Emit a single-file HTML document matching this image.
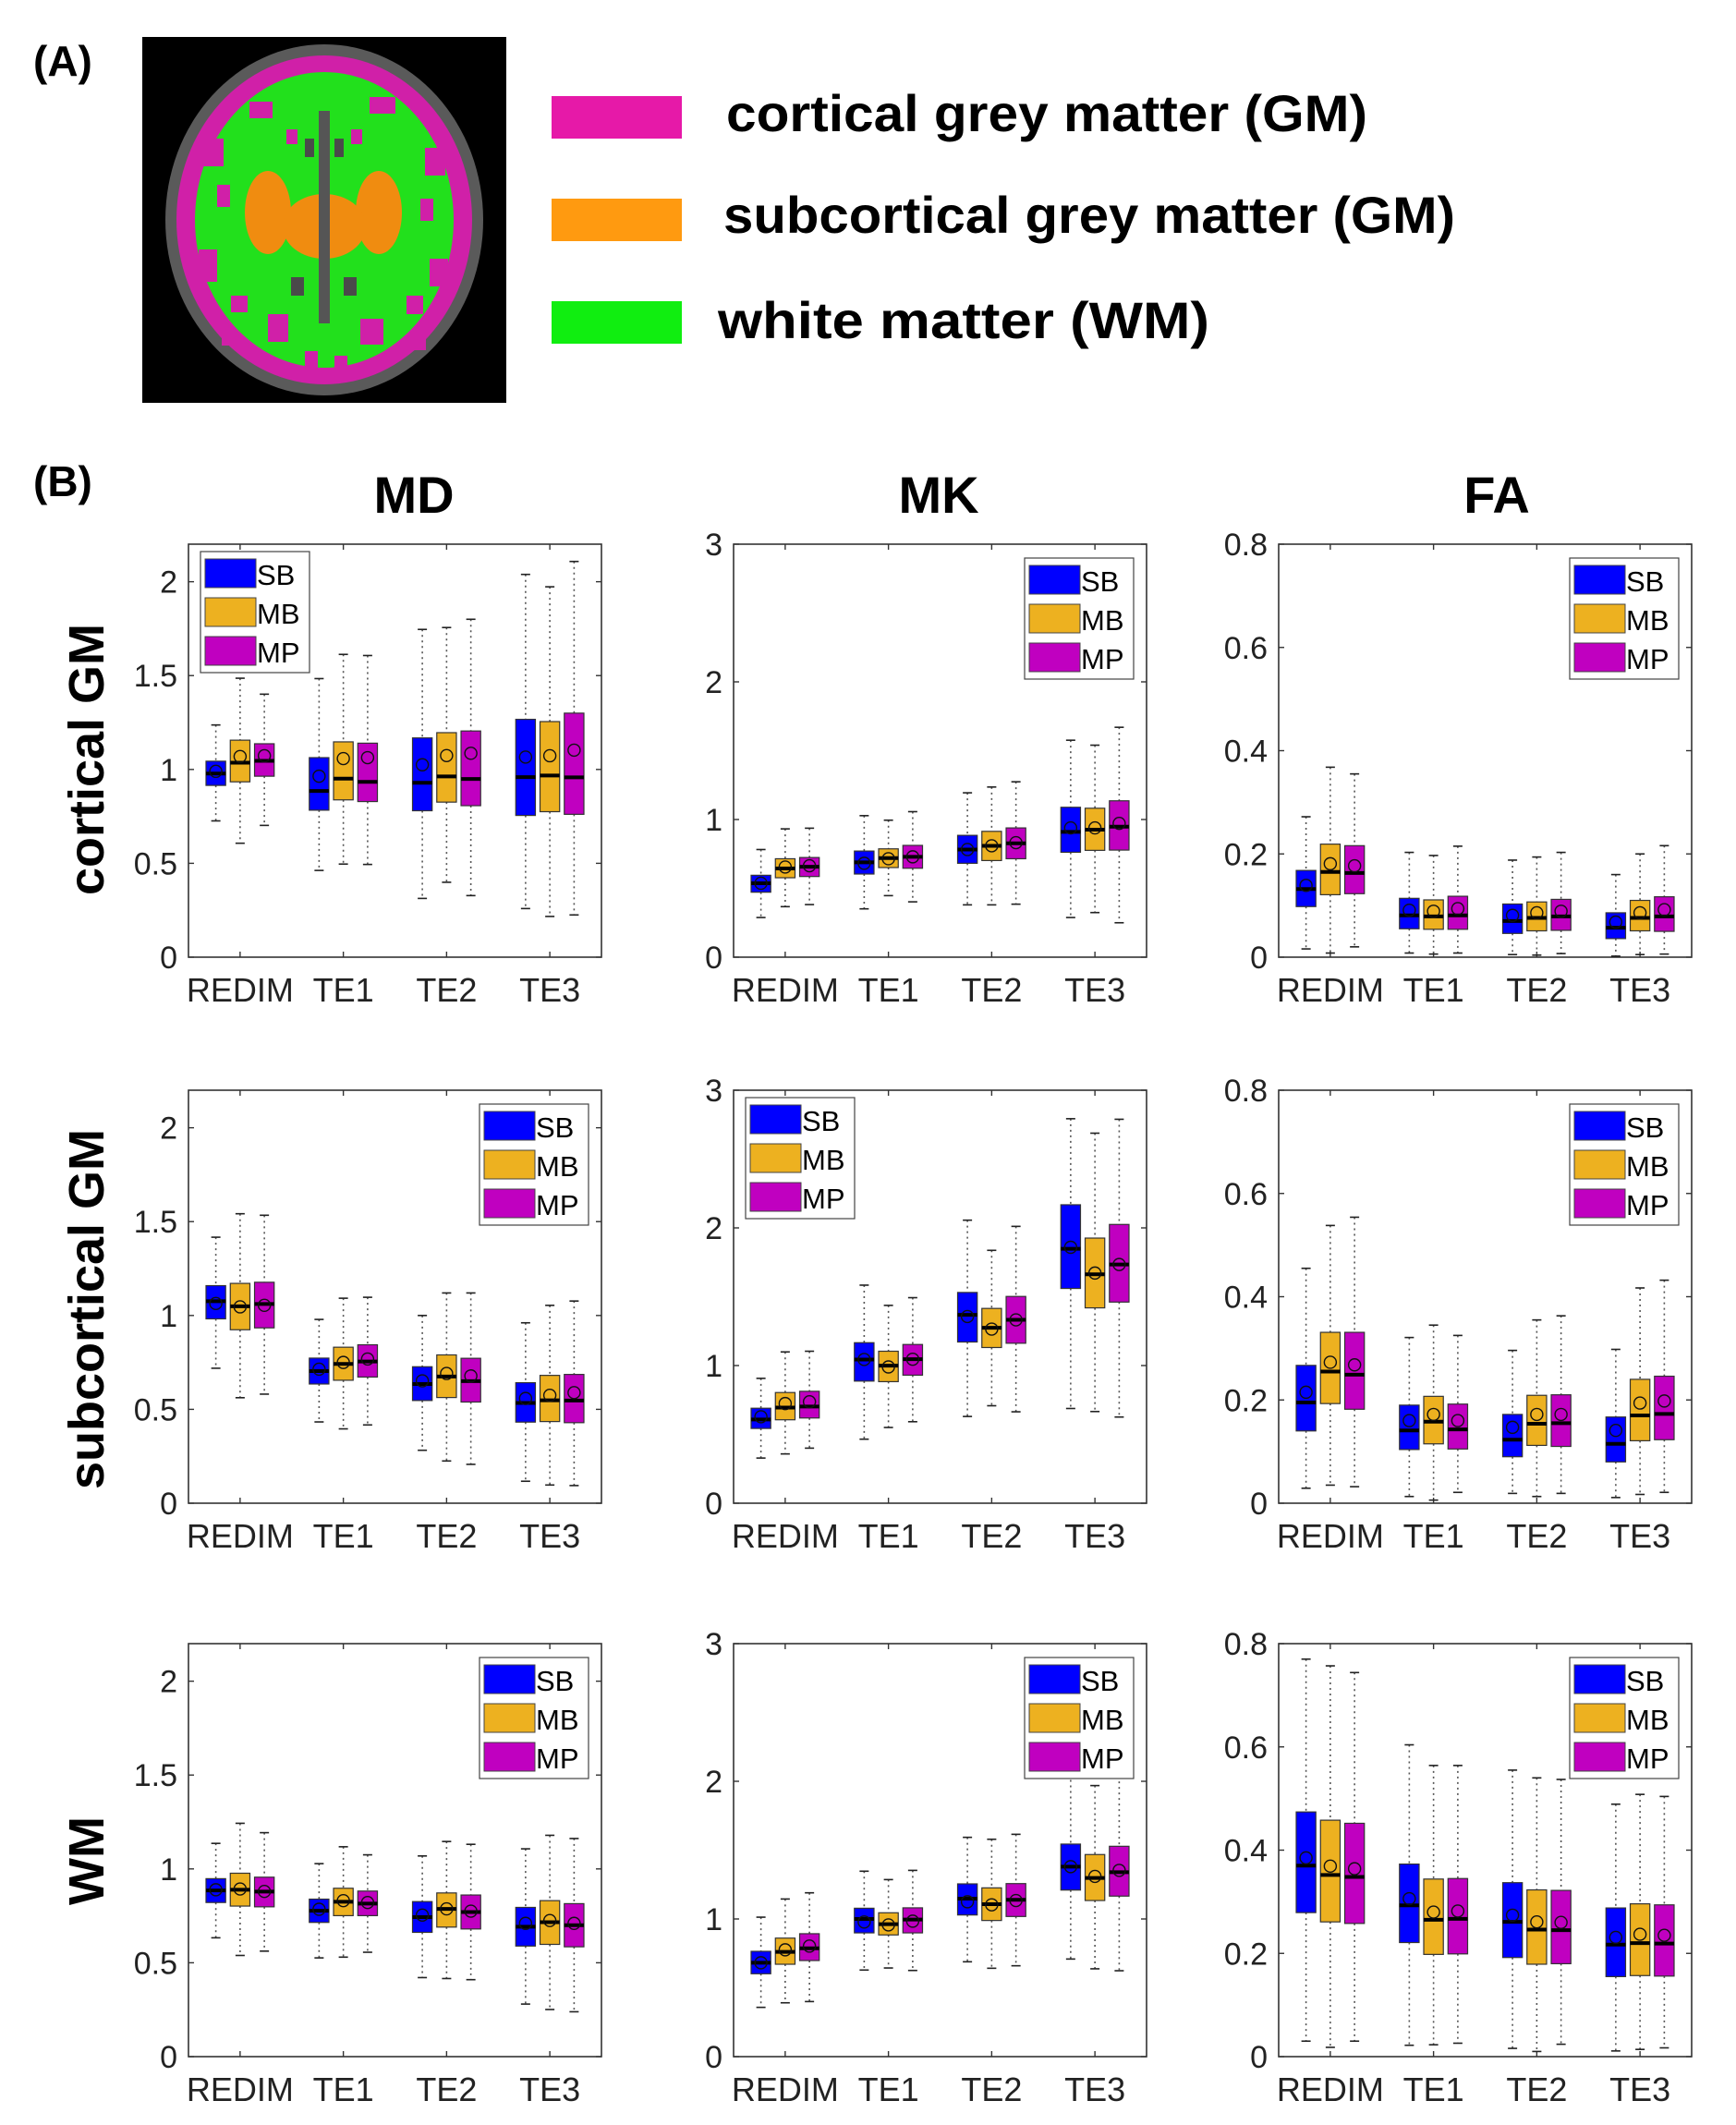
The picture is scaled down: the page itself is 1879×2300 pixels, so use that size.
<!DOCTYPE html>
<html><head><meta charset="utf-8">
<style>
html,body{margin:0;padding:0;background:#fff;}
svg{display:block;font-family:"Liberation Sans",sans-serif;}
</style></head>
<body>
<svg id="fig" width="1879" height="2300" viewBox="0 0 1879 2300" xmlns="http://www.w3.org/2000/svg">
  <rect width="1879" height="2300" fill="#fff"/>
  <text x="36" y="82" font-size="46" font-weight="bold">(A)</text>
  <text x="36" y="537" font-size="46" font-weight="bold">(B)</text>
  <g>
    <rect x="154" y="40" width="394" height="396" fill="#000"/>
    <ellipse cx="351" cy="238" rx="172" ry="190" fill="#5a5a5a"/>
    <ellipse cx="351" cy="238" rx="160" ry="178" fill="#d020a8"/>
    <ellipse cx="351" cy="238" rx="140" ry="160" fill="#22e01c"/>
    <ellipse cx="290" cy="230" rx="25" ry="45" fill="#f08c10"/>
    <ellipse cx="410" cy="230" rx="25" ry="45" fill="#f08c10"/>
    <ellipse cx="351" cy="245" rx="45" ry="35" fill="#f08c10"/>
    <rect x="345" y="120" width="12" height="230" fill="#555"/>
    <g fill="#d020a8">
      <rect x="220" y="150" width="22" height="30"/><rect x="460" y="160" width="22" height="30"/>
      <rect x="215" y="270" width="20" height="35"/><rect x="465" y="280" width="20" height="30"/>
      <rect x="270" y="110" width="25" height="18"/><rect x="400" y="105" width="28" height="18"/>
      <rect x="290" y="340" width="22" height="30"/><rect x="390" y="345" width="25" height="28"/>
      <rect x="250" y="320" width="18" height="18"/><rect x="440" y="320" width="18" height="20"/>
      <rect x="235" y="200" width="14" height="24"/><rect x="455" y="215" width="14" height="24"/>
      <rect x="310" y="140" width="12" height="16"/><rect x="380" y="140" width="12" height="16"/>
      <rect x="240" y="360" width="16" height="14"/><rect x="445" y="365" width="16" height="14"/>
      <rect x="330" y="380" width="14" height="20"/><rect x="362" y="385" width="14" height="20"/>
    </g>
    <g fill="#4a4a4a">
      <rect x="315" y="300" width="14" height="20"/><rect x="372" y="300" width="14" height="20"/>
      <rect x="330" y="150" width="10" height="20"/><rect x="362" y="150" width="10" height="20"/>
    </g>
  </g>
  <g>
    <rect x="597" y="104" width="141" height="46" fill="#e619a8"/>
    <rect x="597" y="215" width="141" height="46" fill="#ff9a10"/>
    <rect x="597" y="326" width="141" height="46" fill="#10ee10"/>
    <text x="786" y="142" font-size="56" font-weight="bold" textLength="694" lengthAdjust="spacingAndGlyphs">cortical grey matter (GM)</text>
    <text x="783" y="252" font-size="56" font-weight="bold" textLength="792" lengthAdjust="spacingAndGlyphs">subcortical grey matter (GM)</text>
    <text x="777" y="366" font-size="56" font-weight="bold" textLength="532" lengthAdjust="spacingAndGlyphs">white matter (WM)</text>
  </g>
  <text x="448" y="555" font-size="56" font-weight="bold" text-anchor="middle">MD</text>
  <text x="1016" y="555" font-size="56" font-weight="bold" text-anchor="middle">MK</text>
  <text x="1620" y="555" font-size="56" font-weight="bold" text-anchor="middle">FA</text>
  <text transform="translate(112,822) rotate(-90)" font-size="54" font-weight="bold" text-anchor="middle">cortical GM</text>
  <text transform="translate(112,1417) rotate(-90)" font-size="54" font-weight="bold" text-anchor="middle">subcortical GM</text>
  <text transform="translate(112,2014) rotate(-90)" font-size="54" font-weight="bold" text-anchor="middle">WM</text>
  <g id="panels"></g>
</svg>
<script>
// categories and series
const groups = ["REDIM","TE1","TE2","TE3"];
const series = ["SB","MB","MP"];
const seriesColors = ["#0000ff","#edb120","#c000c0"];
const panelNames = ["md-cortical","mk-cortical","fa-cortical","md-subcortical","mk-subcortical","fa-subcortical","md-wm","mk-wm","fa-wm"];
const yMax = [2.2,3,0.8,2.2,3,0.8,2.2,3,0.8];
const mdTicks = [0,0.5,1,1.5,2];
const mkTicks = [0,1,2,3];
const faTicks = [0,0.2,0.4,0.6,0.8];
const tickLabelsMD = ["0","0.5","1","1.5","2"];
const tickLabelsMK = ["0","1","2","3"];
const tickLabelsFA = ["0","0.2","0.4","0.6","0.8"];
const legendSide = ["left","right","right","right","left","right","right","right","right"];

// per panel: [SB[4], MB[4], MP[4]]
const whiskerLow = [
 [[0.726,0.462,0.313,0.259],[0.607,0.496,0.399,0.217],[0.702,0.494,0.328,0.225]],
 [[0.288,0.351,0.38,0.288],[0.367,0.447,0.38,0.324],[0.382,0.402,0.385,0.25]],
 [[0.016,0.008,0.005,0.002],[0.008,0.006,0.004,0.005],[0.02,0.008,0.007,0.006]],
 [[0.719,0.433,0.282,0.117],[0.562,0.396,0.225,0.097],[0.581,0.417,0.207,0.094]],
 [[0.328,0.465,0.63,0.688],[0.358,0.55,0.708,0.666],[0.4,0.592,0.664,0.626]],
 [[0.029,0.013,0.019,0.011],[0.035,0.006,0.013,0.017],[0.032,0.021,0.019,0.021]],
 [[0.633,0.526,0.421,0.28],[0.539,0.53,0.416,0.251],[0.562,0.556,0.41,0.239]],
 [[0.358,0.629,0.689,0.709],[0.391,0.644,0.642,0.638],[0.4,0.626,0.66,0.624]],
 [[0.03,0.022,0.016,0.011],[0.018,0.023,0.01,0.014],[0.03,0.026,0.024,0.017]]
];
const quartile1 = [
 [[0.915,0.783,0.78,0.755],[0.934,0.838,0.826,0.775],[0.964,0.829,0.807,0.761]],
 [[0.472,0.604,0.682,0.762],[0.577,0.651,0.702,0.776],[0.586,0.646,0.715,0.778]],
 [[0.098,0.055,0.046,0.036],[0.121,0.054,0.051,0.051],[0.123,0.054,0.052,0.05]],
 [[0.982,0.635,0.547,0.432],[0.924,0.655,0.563,0.435],[0.934,0.672,0.539,0.429]],
 [[0.543,0.887,1.171,1.56],[0.606,0.883,1.131,1.419],[0.619,0.93,1.162,1.461]],
 [[0.14,0.104,0.09,0.08],[0.193,0.115,0.112,0.121],[0.182,0.105,0.11,0.123]],
 [[0.821,0.715,0.662,0.589],[0.802,0.751,0.69,0.598],[0.798,0.751,0.68,0.585]],
 [[0.602,0.899,1.029,1.21],[0.671,0.884,0.989,1.134],[0.698,0.899,1.018,1.166]],
 [[0.279,0.221,0.192,0.155],[0.261,0.198,0.179,0.157],[0.258,0.199,0.18,0.156]]
];
const medians = [
 [[0.978,0.885,0.929,0.959],[1.036,0.951,0.963,0.968],[1.046,0.934,0.949,0.958]],
 [[0.537,0.689,0.782,0.91],[0.644,0.72,0.809,0.926],[0.657,0.729,0.827,0.948]],
 [[0.132,0.081,0.07,0.057],[0.165,0.079,0.076,0.076],[0.163,0.081,0.079,0.079]],
 [[1.076,0.704,0.635,0.534],[1.049,0.742,0.675,0.548],[1.061,0.755,0.65,0.547]],
 [[0.608,1.044,1.368,1.848],[0.695,0.999,1.274,1.663],[0.702,1.046,1.332,1.734]],
 [[0.195,0.141,0.123,0.115],[0.255,0.158,0.154,0.17],[0.249,0.143,0.155,0.173]],
 [[0.885,0.777,0.743,0.692],[0.889,0.825,0.787,0.716],[0.879,0.815,0.77,0.70]],
 [[0.682,1.0,1.148,1.38],[0.761,0.962,1.107,1.298],[0.787,0.996,1.139,1.34]],
 [[0.37,0.293,0.261,0.217],[0.352,0.265,0.246,0.22],[0.348,0.267,0.245,0.219]]
];
const quartile3 = [
 [[1.044,1.063,1.168,1.267],[1.156,1.147,1.196,1.255],[1.137,1.14,1.205,1.30]],
 [[0.595,0.771,0.885,1.089],[0.715,0.787,0.914,1.082],[0.724,0.812,0.939,1.136]],
 [[0.168,0.114,0.103,0.086],[0.219,0.111,0.107,0.11],[0.216,0.118,0.112,0.117]],
 [[1.159,0.773,0.727,0.642],[1.171,0.831,0.79,0.681],[1.177,0.844,0.772,0.686]],
 [[0.69,1.166,1.531,2.168],[0.804,1.104,1.415,1.926],[0.813,1.153,1.502,2.025]],
 [[0.267,0.19,0.172,0.167],[0.331,0.207,0.209,0.24],[0.331,0.192,0.21,0.246]],
 [[0.948,0.839,0.826,0.795],[0.977,0.897,0.872,0.831],[0.956,0.882,0.861,0.815]],
 [[0.765,1.078,1.255,1.544],[0.861,1.045,1.226,1.468],[0.893,1.081,1.257,1.528]],
 [[0.474,0.373,0.337,0.288],[0.458,0.344,0.323,0.296],[0.452,0.345,0.322,0.294]]
];
const whiskerHigh = [
 [[1.237,1.484,1.746,2.039],[1.486,1.613,1.756,1.973],[1.401,1.607,1.80,2.108]],
 [[0.782,1.028,1.194,1.576],[0.932,0.995,1.236,1.54],[0.937,1.057,1.274,1.67]],
 [[0.272,0.203,0.188,0.16],[0.368,0.197,0.194,0.2],[0.355,0.215,0.203,0.216]],
 [[1.417,0.979,1.0,0.961],[1.542,1.092,1.12,1.054],[1.534,1.097,1.12,1.077]],
 [[0.907,1.584,2.056,2.793],[1.099,1.437,1.837,2.688],[1.104,1.493,2.011,2.789]],
 [[0.455,0.321,0.296,0.298],[0.538,0.345,0.355,0.417],[0.554,0.325,0.363,0.432]],
 [[1.136,1.028,1.069,1.107],[1.243,1.118,1.146,1.179],[1.193,1.075,1.131,1.162]],
 [[1.013,1.347,1.593,2.05],[1.145,1.286,1.579,1.969],[1.19,1.353,1.615,2.08]],
 [[0.77,0.604,0.555,0.489],[0.757,0.564,0.54,0.508],[0.744,0.564,0.537,0.504]]
];
const means = [
 [[0.99,0.964,1.025,1.066],[1.069,1.058,1.074,1.073],[1.073,1.063,1.086,1.103]],
 [[0.537,0.682,0.782,0.939],[0.655,0.715,0.809,0.939],[0.664,0.729,0.832,0.972]],
 [[0.139,0.091,0.081,0.068],[0.181,0.089,0.086,0.086],[0.177,0.094,0.089,0.092]],
 [[1.064,0.714,0.652,0.558],[1.046,0.75,0.691,0.575],[1.054,0.768,0.678,0.589]],
 [[0.628,1.044,1.356,1.859],[0.724,0.99,1.265,1.672],[0.737,1.046,1.332,1.734]],
 [[0.215,0.16,0.147,0.141],[0.273,0.172,0.172,0.194],[0.268,0.16,0.172,0.198]],
 [[0.889,0.785,0.754,0.71],[0.893,0.831,0.787,0.725],[0.88,0.821,0.775,0.71]],
 [[0.682,0.978,1.125,1.38],[0.776,0.957,1.103,1.309],[0.803,0.984,1.134,1.353]],
 [[0.385,0.306,0.274,0.231],[0.369,0.28,0.261,0.237],[0.364,0.282,0.26,0.235]]
];

const NS = "http://www.w3.org/2000/svg";
const root = document.getElementById("panels");
const colLeft = [204,794,1384], rowTop = [589,1180,1779], W = 447, H = 447;
function mk(tag, attrs, parent){
  const e = document.createElementNS(NS, tag);
  for (const k in attrs) e.setAttribute(k, attrs[k]);
  parent.appendChild(e); return e;
}
for (let p = 0; p < 9; p++) {
  const L = colLeft[p%3], T = rowTop[Math.floor(p/3)], B = T+H, R = L+W;
  const ymax = yMax[p];
  const ticks = p%3===0 ? mdTicks : (p%3===1 ? mkTicks : faTicks);
  const labels = p%3===0 ? tickLabelsMD : (p%3===1 ? tickLabelsMK : tickLabelsFA);
  const ys = v => B - v/ymax*H;
  const xs = v => L + (v-0.5)/4*W;
  const g = mk("g", {}, root);
  
  
  const frame = mk("rect", {x:L, y:T, width:W, height:H, fill:"#fff", stroke:"#333", "stroke-width":1.6}, g);
  
  
  ticks.forEach((t,i) => {
    const y = ys(t);
    mk("line", {x1:L, x2:L+6, y1:y, y2:y, stroke:"#333", "stroke-width":1.4}, g);
    mk("line", {x1:R-6, x2:R, y1:y, y2:y, stroke:"#333", "stroke-width":1.4}, g);
    const tl = mk("text", {x:L-12, y:y+12, "font-size":34, "text-anchor":"end", fill:"#222"}, g);
    
    
    tl.textContent = labels[i];
  });
  groups.forEach((gn, gi) => {
    const x = xs(gi+1);
    mk("line", {x1:x, x2:x, y1:B, y2:B-6, stroke:"#333", "stroke-width":1.4}, g);
    mk("line", {x1:x, x2:x, y1:T, y2:T+6, stroke:"#333", "stroke-width":1.4}, g);
    const xl = mk("text", {x:x, y:B+48, "font-size":36, "text-anchor":"middle", fill:"#222"}, g);
    
    
    xl.textContent = gn;
    series.forEach((sn, si) => {
      const cx = xs(gi + 1 + (si-1)*0.235);
      const hw = 0.095/4*W;
      const bg = mk("g", {}, g);
      
      
      const lo = whiskerLow[p][si][gi], q1 = quartile1[p][si][gi], md = medians[p][si][gi], q3 = quartile3[p][si][gi], hi = whiskerHigh[p][si][gi], mn = means[p][si][gi];
      mk("line", {x1:cx, x2:cx, y1:ys(hi), y2:ys(q3), stroke:"#555", "stroke-width":1.6, "stroke-dasharray":"2,4"}, bg);
      mk("line", {x1:cx, x2:cx, y1:ys(q1), y2:ys(lo), stroke:"#555", "stroke-width":1.6, "stroke-dasharray":"2,4"}, bg);
      mk("line", {x1:cx-5, x2:cx+5, y1:ys(hi), y2:ys(hi), stroke:"#222", "stroke-width":1.6}, bg);
      mk("line", {x1:cx-5, x2:cx+5, y1:ys(lo), y2:ys(lo), stroke:"#222", "stroke-width":1.6}, bg);
      mk("rect", {x:cx-hw, y:ys(q3), width:2*hw, height:ys(q1)-ys(q3), fill:seriesColors[si], stroke:"#333", "stroke-width":1.2}, bg);
      mk("line", {x1:cx-hw, x2:cx+hw, y1:ys(md), y2:ys(md), stroke:"#000", "stroke-width":4}, bg);
      mk("circle", {cx:cx, cy:ys(mn), r:6.5, fill:"none", stroke:"#111", "stroke-width":1.4}, bg);
    });
  });
  // legend
  const lw = 118, lh = 131;
  const lx = legendSide[p]==="left" ? L+13 : R-14-lw;
  const ly = T + (legendSide[p]==="left" ? 8 : 15);
  const lg = mk("g", {}, g);
  
  
  mk("rect", {x:lx, y:ly, width:lw, height:lh, fill:"#fff", stroke:"#444", "stroke-width":1.2}, lg);
  series.forEach((sn, si) => {
    const e = mk("g", {}, lg);
    
    
    mk("rect", {x:lx+5, y:ly+8+si*42, width:55, height:31, fill:seriesColors[si], stroke:"#444", "stroke-width":1}, e);
    const t = mk("text", {x:lx+61, y:ly+36+si*42, "font-size":31, fill:"#000"}, e);
    t.textContent = sn;
  });
}
</script>
</body></html>
